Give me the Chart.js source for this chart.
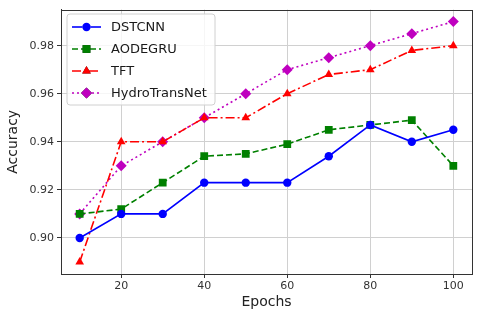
<!DOCTYPE html>
<html><head><meta charset="utf-8">
<script src="https://cdn.jsdelivr.net/npm/chart.js@4"></script>
<style>html,body{margin:0;padding:0;background:#fff}#wrap{width:480px;height:321px}</style>
</head><body><div id="wrap"><canvas id="c" width="480" height="321"></canvas></div>
<script>
const epochs = [10,20,30,40,50,60,70,80,90,100];
const dstcnn = [0.900,0.910,0.910,0.923,0.923,0.923,0.934,0.947,0.940,0.945];
const aodegru = [0.910,0.912,0.923,0.934,0.935,0.939,0.945,0.947,0.949,0.930];
const tft = [0.890,0.940,0.940,0.950,0.950,0.960,0.968,0.970,0.978,0.980];
const hydro = [0.910,0.930,0.940,0.950,0.960,0.970,0.975,0.980,0.985,0.990];
const xTicks = [20,40,60,80,100];
const yTicks = [0.90,0.92,0.94,0.96,0.98];
const names = ['DSTCNN','AODEGRU','TFT','HydroTransNet'];

const F = 'DejaVu Sans';
function ds(label, data, color, style, r, dash){
  return {label, data: epochs.map((e,i)=>({x:e,y:data[i]})), borderColor:color, backgroundColor:color,
    pointStyle:style, pointRadius:r, pointHoverRadius:r, pointBorderWidth:0, borderWidth:1.6, borderDash:dash, tension:0, fill:false};
}
const datasets = [
  ds(names[0], dstcnn, '#0000ff', 'circle', 4.2, []),
  ds(names[1], aodegru, '#008000', 'rect', 5.5, [6,3]),
  ds(names[2], tft, '#ff0000', 'triangle', 5, [9,3,2,3]),
  ds(names[3], hydro, '#bf00bf', 'rectRot', 5.5, [2,3]),
];

const framePlugin = {
  id:'frame',
  afterDatasetsDraw(chart){
    const a=chart.chartArea, ctx=chart.ctx;
    ctx.save(); ctx.strokeStyle='#333'; ctx.lineWidth=1;
    ctx.strokeRect(Math.round(a.left)+0.5,Math.round(a.top)+0.5,Math.round(a.right-a.left),Math.round(a.bottom-a.top));
    ctx.restore();
  }
};

const legendPlugin = {
  id:'innerLegend',
  afterDraw(chart){
    const ctx = chart.ctx;
    const x0=67,y0=14,w=148,h=91;
    ctx.save();
    ctx.beginPath();
    if(ctx.roundRect) ctx.roundRect(x0,y0,w,h,3); else ctx.rect(x0,y0,w,h);
    ctx.fillStyle='rgba(255,255,255,0.8)'; ctx.fill();
    ctx.strokeStyle='#d0d0d0'; ctx.lineWidth=1; ctx.stroke();
    const rows=[27,49,71,93];
    chart.data.datasets.forEach((d,i)=>{
      const y=rows[i];
      ctx.save();
      ctx.strokeStyle=d.borderColor; ctx.lineWidth=d.borderWidth; ctx.setLineDash(d.borderDash||[]);
      ctx.beginPath(); ctx.moveTo(72,y); ctx.lineTo(101,y); ctx.stroke();
      ctx.restore();
      Chart.helpers.drawPoint(ctx,{pointStyle:d.pointStyle,radius:d.pointRadius,borderWidth:0,rotation:0},86.5,y);
      ctx.fillStyle=d.borderColor; ctx.fill();
      ctx.fillStyle='#1a1a1a'; ctx.font='13px "'+F+'"'; ctx.textBaseline='middle'; ctx.textAlign='left';
      ctx.fillText(d.label,111,y+1);
    });
    ctx.restore();
  }
};

new Chart(document.getElementById('c'),{
  type:'line',
  data:{datasets},
  options:{
    responsive:false, animation:false, events:[],
    layout:{padding:{top:8,right:8,left:5,bottom:10}},
    plugins:{legend:{display:false},tooltip:{enabled:false}},
    scales:{
      x:{type:'linear',min:5.5,max:104.5,
        afterBuildTicks(s){s.ticks=xTicks.map(v=>({value:v}));},
        afterFit(s){s.height=37;},
        ticks:{color:'#333',font:{family:F,size:11},padding:2,maxRotation:0,autoSkip:false,callback:v=>String(v)},
        grid:{color:'#d0d0d0',lineWidth:1,tickColor:'#333',tickLength:4,drawTicks:true},
        border:{color:'#333',width:1},
        title:{display:true,text:'Epochs',color:'#222',font:{family:F,size:14},padding:{top:2,bottom:0}}
      },
      y:{type:'linear',min:0.885,max:0.995,
        afterBuildTicks(s){s.ticks=yTicks.map(v=>({value:v}));},
        afterFit(s){s.width=56;},
        ticks:{color:'#333',font:{family:F,size:11},padding:3,autoSkip:false,callback:v=>v.toFixed(2)},
        grid:{color:'#d0d0d0',lineWidth:1,tickColor:'#333',tickLength:4,drawTicks:true},
        border:{color:'#333',width:1},
        title:{display:true,text:'Accuracy',color:'#222',font:{family:F,size:14},padding:{top:0,bottom:2}}
      }
    }
  },
  plugins:[framePlugin,legendPlugin]
});
</script></body></html>
